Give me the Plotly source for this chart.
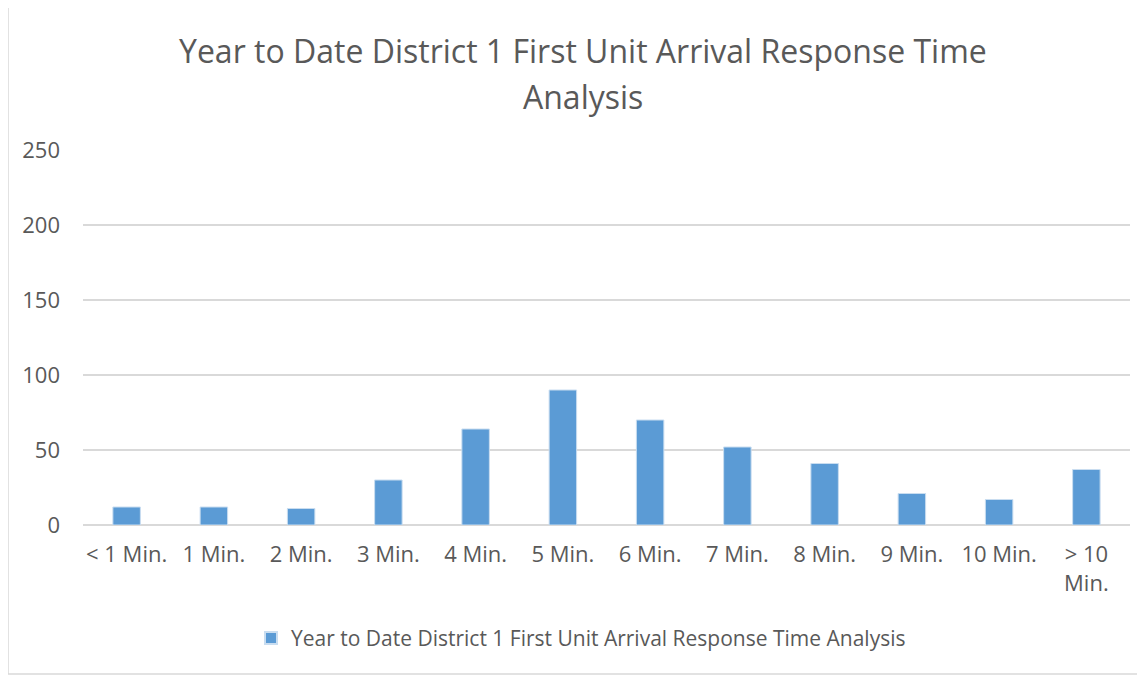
import plotly.graph_objects as go

categories = ["< 1 Min.", "1 Min.", "2 Min.", "3 Min.", "4 Min.", "5 Min.",
              "6 Min.", "7 Min.", "8 Min.", "9 Min.", "10 Min.", "> 10<br>Min."]
values = [12, 12, 11, 30, 64, 90, 70, 52, 41, 21, 17, 37]
series_name = "Year to Date District 1 First Unit Arrival Response Time Analysis"
title_line1 = "Year to Date District 1 First Unit Arrival Response Time"
title_line2 = "Analysis"
y_ticks = [0, 50, 100, 150, 200, 250]

FONT = "Open Sans"
TXT = "#595959"
PW = 1047.0

fig = go.Figure()
fig.add_trace(go.Bar(
    x=categories, y=values, name=series_name,
    marker=dict(color="#5B9BD5", line=dict(color="#c9ddf0", width=1)),
    showlegend=True,
))

fig.update_layout(
    width=1145, height=677,
    margin=dict(l=75, r=23, t=142, b=160),
    paper_bgcolor="white", plot_bgcolor="white",
    bargap=0.685,
    font=dict(family=FONT, color=TXT, size=21),
    showlegend=True,
    legend=dict(orientation="h", x=(581 - 83) / PW, xanchor="center", y=-0.302, yanchor="middle",
                font=dict(family=FONT, size=21, color=TXT), itemsizing="constant",
                itemwidth=30),
    xaxis=dict(showgrid=False, tickangle=0, ticks="", showline=False,
               tickfont=dict(family=FONT, size=22, color=TXT), ticklabelstandoff=14),
    yaxis=dict(range=[0, 250], tickvals=y_ticks, showgrid=True, gridcolor="#D9D9D9",
               gridwidth=1.5, zeroline=True, zerolinecolor="#D9D9D9", zerolinewidth=1.5,
               tickfont=dict(family=FONT, size=22, color=TXT), ticklabelstandoff=22,
               showline=False, ticks=""),
    annotations=[
        dict(text=title_line1, xref="paper", yref="paper", x=(583 - 83) / PW, y=(525 - 50) / 375,
             xanchor="center", yanchor="middle", showarrow=False,
             font=dict(family=FONT, size=32, color=TXT)),
        dict(text=title_line2, xref="paper", yref="paper", x=(583 - 83) / PW, y=(525 - 96) / 375,
             xanchor="center", yanchor="middle", showarrow=False,
             font=dict(family=FONT, size=32, color=TXT)),
    ],
    shapes=[dict(type="rect", xref="paper", yref="paper",
                 x0=(8 - 83) / PW, x1=(1143 - 83) / PW,
                 y0=(525 - 674) / 375, y1=(525 - 6) / 375,
                 line=dict(color="#D9D9D9", width=1.5), fillcolor="rgba(0,0,0,0)", layer="below")],
)

fig.write_html("out.html")
